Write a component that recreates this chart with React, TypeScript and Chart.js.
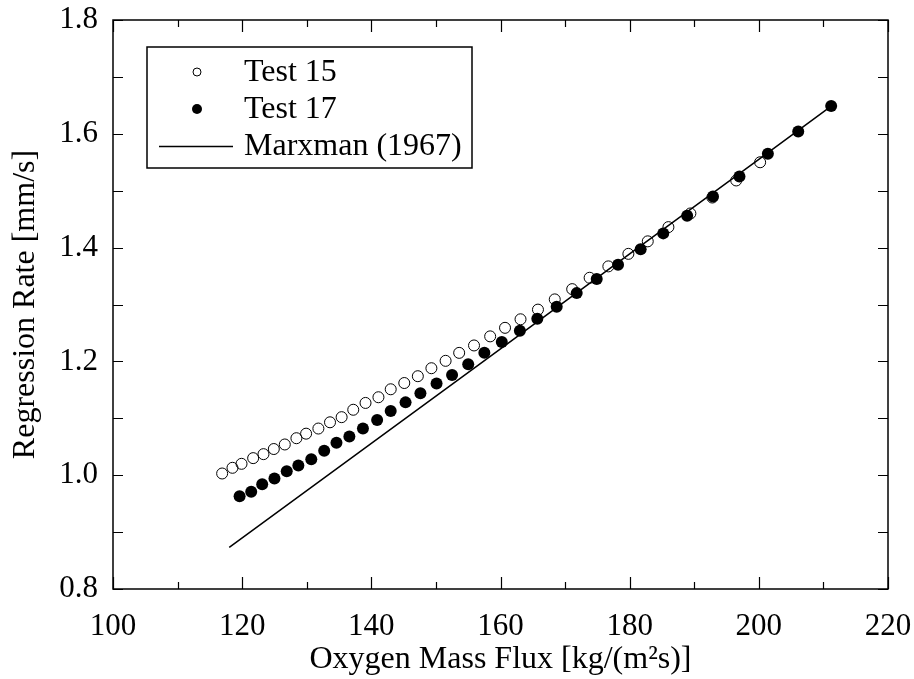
import React, { useEffect, useRef } from "react";
import { Chart, registerables } from "chart.js";

Chart.register(...registerables);

// ---------- data ----------
const seriesLabels = ["Test 15", "Test 17", "Marxman (1967)"];

const test15X = [
  116.9, 118.5, 119.9, 121.7, 123.3, 124.9, 126.6, 128.4, 129.9, 131.8,
  133.6, 135.4, 137.2, 139.1, 141.1, 143.0, 145.1, 147.2, 149.3, 151.5,
  153.6, 155.9, 158.4, 160.7, 163.1, 165.8, 168.4, 171.1, 173.8, 176.7,
  179.8, 182.8, 186.0, 189.4, 192.8, 196.5, 200.2,
];
const test15Y = [
  1.003, 1.013, 1.02, 1.03, 1.037, 1.046, 1.054, 1.065, 1.073, 1.082,
  1.093, 1.102, 1.115, 1.127, 1.137, 1.151, 1.162, 1.174, 1.188, 1.201,
  1.215, 1.228, 1.244, 1.259, 1.274, 1.291, 1.309, 1.327, 1.347, 1.367,
  1.389, 1.411, 1.436, 1.46, 1.488, 1.518, 1.55,
];

const test17X = [
  119.6, 121.4, 123.1, 125.0, 126.9, 128.7, 130.7, 132.7, 134.6, 136.6,
  138.7, 140.9, 143.0, 145.3, 147.6, 150.1, 152.5, 155.0, 157.5, 160.2,
  163.0, 165.7, 168.7, 171.8, 174.9, 178.2, 181.7, 185.2, 188.9, 192.9,
  197.0, 201.4, 206.1, 211.2,
];
const test17Y = [
  0.963, 0.971, 0.984, 0.994, 1.007, 1.017, 1.028, 1.043, 1.057, 1.068,
  1.082, 1.097, 1.113, 1.128, 1.144, 1.161, 1.176, 1.195, 1.215, 1.234,
  1.254, 1.275, 1.296, 1.32, 1.345, 1.37, 1.397, 1.425, 1.456, 1.49,
  1.525, 1.565, 1.604, 1.649,
];

const marxmanX = [118, 140, 160, 180, 200, 211];
const marxmanY = [0.873, 1.056, 1.222, 1.389, 1.555, 1.647];

const xTicks = [100, 120, 140, 160, 180, 200, 220];
const yTicks = [0.8, 1.0, 1.2, 1.4, 1.6, 1.8];

const xTitle = "Oxygen Mass Flux [kg/(m\u00B2s)]";
const yTitle = "Regression Rate [mm/s]";

// ---------- styling ----------
const FONT = "'Liberation Serif', 'Times New Roman', serif";
const TICK_FS = 31;
const TITLE_FS = 32;
const LEGEND_FS = 32;

const toPoints = (xs: number[], ys: number[]) =>
  xs.map((x, i) => ({ x, y: ys[i] }));

const framePlugin = {
  id: "frameTicks",
  afterDraw(chart: any) {
    const { ctx, chartArea: a, scales } = chart;
    const x = scales.x;
    const y = scales.y;
    ctx.save();
    ctx.strokeStyle = "#000";
    ctx.lineWidth = 1.5;
    ctx.strokeRect(a.left, a.top, a.right - a.left, a.bottom - a.top);
    ctx.lineWidth = 1.2;
    ctx.beginPath();
    const xMinor: number[] = [];
    for (let i = 0; i < xTicks.length - 1; i++) xMinor.push((xTicks[i] + xTicks[i + 1]) / 2);
    const yMinor: number[] = [];
    for (let i = 0; i < yTicks.length - 1; i++) yMinor.push((yTicks[i] + yTicks[i + 1]) / 2);
    const xt = (v: number, len: number) => {
      const px = Math.round(x.getPixelForValue(v)) + 0.5;
      ctx.moveTo(px, a.bottom);
      ctx.lineTo(px, a.bottom - len);
      ctx.moveTo(px, a.top);
      ctx.lineTo(px, a.top + len);
    };
    const yt = (v: number, len: number) => {
      const py = Math.round(y.getPixelForValue(v)) + 0.5;
      ctx.moveTo(a.left, py);
      ctx.lineTo(a.left + len, py);
      ctx.moveTo(a.right, py);
      ctx.lineTo(a.right - len, py);
    };
    xTicks.forEach((v) => xt(v, 12));
    xMinor.forEach((v) => xt(v, 7));
    yTicks.forEach((v) => yt(v, 10));
    yMinor.forEach((v) => yt(v, 10));
    ctx.stroke();
    ctx.restore();
  },
};

const legendPlugin = {
  id: "boxLegend",
  afterDraw(chart: any) {
    const { ctx } = chart;
    const left = 147, top = 47, right = 472, bottom = 168;
    ctx.save();
    ctx.fillStyle = "#fff";
    ctx.fillRect(left, top, right - left, bottom - top);
    ctx.strokeStyle = "#000";
    ctx.lineWidth = 1.5;
    ctx.strokeRect(left, top, right - left, bottom - top);
    const rows = [72, 109, 146];
    const mx = 197;
    ctx.lineWidth = 1;
    ctx.beginPath();
    ctx.arc(mx, rows[0], 4, 0, Math.PI * 2);
    ctx.stroke();
    ctx.fillStyle = "#000";
    ctx.beginPath();
    ctx.arc(mx, rows[1], 5, 0, Math.PI * 2);
    ctx.fill();
    ctx.lineWidth = 1.5;
    ctx.beginPath();
    ctx.moveTo(159, rows[2] + 0.5);
    ctx.lineTo(233, rows[2] + 0.5);
    ctx.stroke();
    ctx.fillStyle = "#000";
    ctx.font = `${LEGEND_FS}px ${FONT}`;
    ctx.textBaseline = "middle";
    ctx.textAlign = "left";
    seriesLabels.forEach((t, i) => ctx.fillText(t, 244, rows[i] + 1));
    ctx.restore();
  },
};

export default function App() {
  const ref = useRef<HTMLCanvasElement | null>(null);

  useEffect(() => {
    if (!ref.current) return;
    const chart = new Chart(ref.current, {
      type: "scatter",
      data: {
        datasets: [
          {
            label: seriesLabels[0],
            data: toPoints(test15X, test15Y),
            pointStyle: "circle",
            pointRadius: 5.5,
            pointBorderWidth: 1,
            borderColor: "#000",
            backgroundColor: "rgba(0,0,0,0)",
            showLine: false,
            order: 1,
          },
          {
            label: seriesLabels[1],
            data: toPoints(test17X, test17Y),
            pointStyle: "circle",
            pointRadius: 6,
            pointBorderWidth: 0,
            borderColor: "#000",
            backgroundColor: "#000",
            showLine: false,
            order: 0,
          },
          {
            label: seriesLabels[2],
            data: toPoints(marxmanX, marxmanY),
            showLine: true,
            pointRadius: 0,
            borderColor: "#000",
            borderWidth: 1.5,
            backgroundColor: "#000",
            tension: 0,
            order: 2,
          },
        ],
      },
      options: {
        responsive: false,
        animation: false,
        layout: { padding: { top: 20, right: 26, left: 0, bottom: 0 } },
        plugins: {
          legend: { display: false },
          tooltip: { enabled: false },
        },
        scales: {
          x: {
            type: "linear",
            min: 100,
            max: 220,
            afterBuildTicks: (s: any) => {
              s.ticks = xTicks.map((v) => ({ value: v }));
            },
            afterFit: (s: any) => {
              s.height = 90;
              s.paddingLeft = 0;
              s.paddingRight = 0;
            },
            grid: { display: false, drawTicks: false },
            border: { display: false },
            ticks: {
              color: "#000",
              padding: 19,
              font: { family: FONT, size: TICK_FS },
              maxRotation: 0,
              callback: (v: any) => String(v),
            },
            title: {
              display: true,
              text: xTitle,
              color: "#000",
              font: { family: FONT, size: TITLE_FS },
              padding: { top: 0, bottom: 0 },
            },
          },
          y: {
            type: "linear",
            min: 0.8,
            max: 1.8,
            afterBuildTicks: (s: any) => {
              s.ticks = yTicks.map((v) => ({ value: v }));
            },
            afterFit: (s: any) => {
              s.width = 113;
              s.paddingTop = 0;
              s.paddingBottom = 0;
            },
            grid: { display: false, drawTicks: false },
            border: { display: false },
            ticks: {
              color: "#000",
              padding: 15,
              font: { family: FONT, size: TICK_FS },
              callback: (v: any) => Number(v).toFixed(1),
            },
            title: {
              display: true,
              text: yTitle,
              color: "#000",
              font: { family: FONT, size: TITLE_FS },
              padding: { top: 6, bottom: 0 },
            },
          },
        },
      },
      plugins: [framePlugin, legendPlugin],
    });
    return () => chart.destroy();
  }, []);

  return (
    <div
      style={{
        position: "fixed",
        left: 0,
        top: 0,
        width: 914,
        height: 679,
        background: "#fff",
      }}
    >
      <canvas ref={ref} width={914} height={679} style={{ width: 914, height: 679 }} />
    </div>
  );
}
